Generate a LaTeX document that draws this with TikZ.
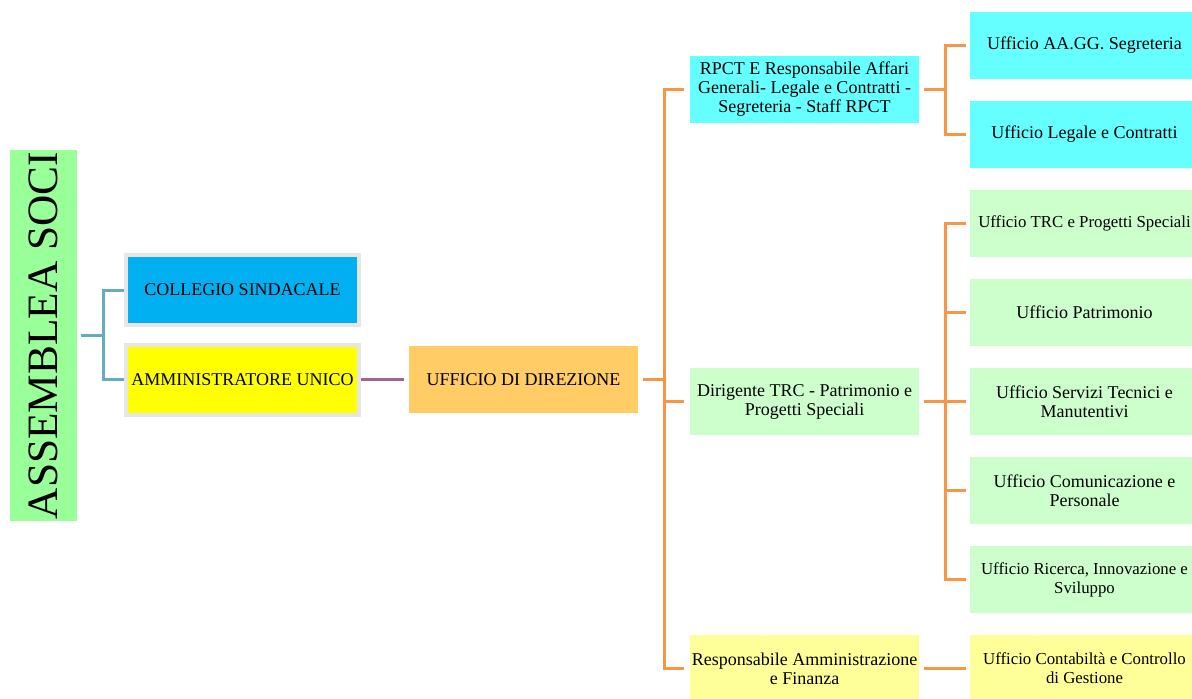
\documentclass[tikz,border=0pt]{standalone}
\usepackage{fontspec}
\setmainfont{Liberation Serif}
\definecolor{sociGreen}{HTML}{99FF99}
\definecolor{collegioBlue}{HTML}{00B0F0}
\definecolor{ammYellow}{HTML}{FFFF00}
\definecolor{direzOrange}{HTML}{FFCC66}
\definecolor{staffCyan}{HTML}{66FFFF}
\definecolor{tecGreen}{HTML}{CCFFCC}
\definecolor{finYellow}{HTML}{FFFF99}
\definecolor{frameGrey}{HTML}{E6E6E6}
\definecolor{linkOrange}{HTML}{F79646}
\definecolor{linkTeal}{HTML}{66AAC3}
\definecolor{linkPurple}{HTML}{9F6490}
\tikzset{
  office/.style={inner sep=1pt, minimum width=171.75pt, minimum height=50.25pt,
    align=center, font=\fontsize{13.5}{14.25}\selectfont},
  tight/.style={font=\fontsize{12.6}{14.25}\selectfont},
  board/.style={office, draw=frameGrey, line width=3pt,
    minimum width=174.75pt, minimum height=52.5pt},
  branch/.style={draw=linkOrange, line width=2.25pt},
}
\begin{document}
\begin{tikzpicture}[x=0.75pt, y=-0.75pt]
    \clip (0,0) rectangle (1192,699);
    \fill[white] (0,0) rectangle (1192,699);

    % left side
    \node[fill=sociGreen, inner sep=0pt, minimum width=50.25pt, minimum height=278.25pt,
      font=\fontsize{32.5}{34}\selectfont] (soci) at (43.5,335.5) {\rotatebox{90}{ASSEMBLEA SOCI}};
    \node[board, fill=collegioBlue] (collegio) at (242.5,290) {COLLEGIO SINDACALE};
    \node[board, fill=ammYellow] (amm) at (242.5,379.5) {AMMINISTRATORE UNICO};
    \node[office, fill=direzOrange] (direz) at (523.5,379.5) {UFFICIO DI DIREZIONE};

    % middle column
    \node[office, fill=staffCyan] (rpct) at (804.5,89.5)
      {RPCT E Responsabile Affari\\Generali- Legale e Contratti -\\Segreteria - Staff RPCT};
    \node[office, fill=tecGreen] (dirig) at (804.5,401.5)
      {Dirigente TRC - Patrimonio e\\Progetti Speciali};
    \node[office, fill=finYellow] (resp) at (804.5,668.5)
      {Responsabile Amministrazione\\e Finanza};

    % right column
    \node[office, fill=staffCyan] (aagg) at (1084.5,45.5) {Ufficio AA.GG. Segreteria};
    \node[office, fill=staffCyan] (legale) at (1084.5,134.5) {Ufficio Legale e Contratti};
    \node[office, tight, fill=tecGreen] (trc) at (1084.5,223.5) {Ufficio TRC e Progetti Speciali};
    \node[office, fill=tecGreen] (patrim) at (1084.5,312.5) {Ufficio Patrimonio};
    \node[office, fill=tecGreen] (servizi) at (1084.5,401.5) {Ufficio Servizi Tecnici e\\Manutentivi};
    \node[office, fill=tecGreen] (comun) at (1084.5,490.5) {Ufficio Comunicazione e\\Personale};
    \node[office, tight, fill=tecGreen] (ricerca) at (1084.5,579.5) {Ufficio Ricerca, Innovazione e\\Sviluppo};
    \node[office, tight, fill=finYellow] (contab) at (1084.5,668.5) {Ufficio Contabiltà e Controllo\\di Gestione};

    % connectors
    \coordinate (j1) at (103,335);
    \draw[linkTeal, line width=2.25pt, shorten <=3pt] (soci.east |- j1) -- (j1);
    \draw[linkTeal, line width=2.25pt] (j1) |- (collegio.west) (j1) |- (amm.west);
    \draw[linkPurple, line width=2.25pt, shorten >=3.75pt] (amm.east) -- (direz.west);

    \coordinate (s1) at (664,379.5);
    \draw[branch, shorten <=3.75pt] (direz.east) -- (s1);
    \foreach \n in {rpct,dirig,resp}
      \draw[branch, shorten >=4.5pt] (s1) |- (\n.west);

    \coordinate (s2) at (945,89.5);
    \draw[branch, shorten <=3.75pt] (rpct.east) -- (s2);
    \foreach \n in {aagg,legale}
      \draw[branch, shorten >=3pt] (s2) |- (\n.west);

    \coordinate (s3) at (945,401.5);
    \draw[branch, shorten <=3.75pt] (dirig.east) -- (s3);
    \foreach \n in {trc,patrim,servizi,comun,ricerca}
      \draw[branch, shorten >=3pt] (s3) |- (\n.west);

    \draw[branch, shorten <=3.75pt, shorten >=3pt] (resp.east) -- (contab.west);
\end{tikzpicture}
\end{document}
